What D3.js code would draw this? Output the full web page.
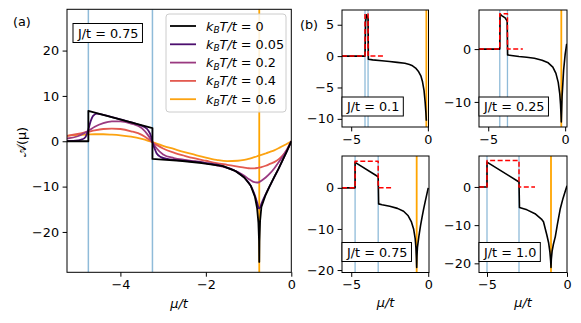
<!DOCTYPE html>
<html>
<head>
<meta charset="utf-8">
<script src="https://cdn.jsdelivr.net/npm/d3@7/dist/d3.min.js"></script>
<style>
body { margin: 0; background: #fff; }
text { font-family: "DejaVu Sans", sans-serif; font-size: 12.8px; fill: #000; }
</style>
</head>
<body>
<script>
const width = 581;
const height = 323;

// ---- panel (a) data, J/t = 0.75 ----
const tempLabels = ["0", "0.05", "0.2", "0.4", "0.6"];
const tempColors = ["#000000", "#4c0f6e", "#9a3a80", "#e35a50", "#fca311"];

const muT0 = [-5.25, -4.75, -4.75, -3.25, -3.25, -3.1, -2.6, -2.1, -1.6, -1.3, -1.1, -0.95, -0.85, -0.8, -0.77, -0.755, -0.75, -0.745, -0.73, -0.7, -0.6, -0.5, -0.4, -0.3, -0.2, -0.1, 0];
const valT0 = [0, 0, 6.7, 2.9, -3.9, -4.0, -4.3, -4.8, -5.5, -6.6, -8.0, -9.8, -12.3, -14.8, -18, -22, -26.6, -22, -17.5, -14.5, -11.8, -9.8, -7.9, -6.1, -4.1, -2.1, 0];

const muT005 = [-5.25, -5.0, -4.9, -4.82, -4.75, -4.7, -4.64, -4.55, -4.4, -4.0, -3.6, -3.45, -3.35, -3.28, -3.25, -3.2, -3.15, -3.05, -2.9, -2.5, -2.0, -1.6, -1.3, -1.1, -0.95, -0.87, -0.8, -0.76, -0.74, -0.7, -0.6, -0.5, -0.4, -0.3, -0.2, -0.1, 0];
const valT005 = [0.05, 0.2, 0.4, 0.9, 2.6, 4.3, 5.6, 6.1, 5.8, 4.8, 3.75, 3.2, 2.4, 1.0, -0.2, -1.6, -2.7, -3.5, -3.9, -4.3, -4.8, -5.5, -6.6, -8.0, -9.8, -11.5, -13.5, -14.8, -14.8, -13.8, -11.7, -9.8, -7.9, -6.1, -4.1, -2.1, 0];

const muT = [-5.25, -5.0, -4.75, -4.6, -4.4, -4.2, -4.0, -3.75, -3.5, -3.35, -3.25, -3.15, -3.0, -2.75, -2.5, -2.25, -2.0, -1.75, -1.5, -1.25, -1.1, -1.0, -0.9, -0.8, -0.75, -0.7, -0.6, -0.5, -0.4, -0.3, -0.2, -0.1, 0];
const valT02 = [0.6, 1.1, 2.3, 3.2, 4.0, 4.4, 4.4, 3.9, 2.9, 1.3, -0.2, -1.6, -2.9, -3.7, -4.1, -4.4, -4.8, -5.3, -5.9, -6.8, -7.6, -8.3, -8.9, -9.1, -9.0, -8.7, -8.0, -7.1, -6.0, -4.7, -3.3, -1.8, 0];
const valT04 = [1.2, 1.6, 2.1, 2.4, 2.7, 2.8, 2.7, 2.2, 1.4, 0.5, -0.2, -0.8, -1.6, -2.5, -3.2, -3.8, -4.3, -4.8, -5.2, -5.6, -5.8, -5.95, -6.0, -5.9, -5.8, -5.7, -5.4, -5.0, -4.6, -4.0, -3.1, -1.8, 0];
const valT06 = [1.2, 1.4, 1.5, 1.55, 1.55, 1.45, 1.3, 1.0, 0.5, 0.1, -0.2, -0.5, -1.0, -1.7, -2.4, -3.0, -3.6, -4.1, -4.4, -4.3, -4.1, -3.9, -3.6, -3.3, -3.1, -3.0, -2.7, -2.35, -2.0, -1.55, -1.05, -0.55, 0];

// ---- panel (b) data, T = 0 ----
const jValues = [0.1, 0.25, 0.75, 1.0];
const jLabels = ["0.1", "0.25", "0.75", "1.0"];

const muJ01 = [-5.6, -4.1, -4.06, -4.0, -3.9, -3.88, -3.6, -3.0, -2.5, -2.0, -1.5, -1.2, -1.0, -0.8, -0.6, -0.45, -0.35, -0.25, -0.18, -0.13, -0.1];
const valJ01 = [0, 0, 5.5, 6.6, 6.0, -0.5, -0.6, -0.75, -0.85, -1.0, -1.15, -1.35, -1.55, -1.9, -2.5, -3.2, -4.1, -5.5, -7.3, -9.0, -10.3];
const muJ025 = [-5.6, -4.25, -4.23, -4.1, -3.9, -3.77, -3.74, -3.5, -3.0, -2.5, -2.0, -1.5, -1.1, -0.8, -0.6, -0.45, -0.35, -0.3, -0.27, -0.25, -0.2, -0.1, 0, 0.1];
const valJ025 = [0, 0, 6.6, 6.3, 5.9, 5.3, -1.1, -1.2, -1.4, -1.55, -1.75, -2.1, -2.6, -3.4, -4.6, -6.3, -8.5, -10.5, -12.3, -13.8, -9, -4, -1, 1];
const muJ075 = [-5.6, -4.75, -4.75, -3.25, -3.22, -3.0, -2.5, -2.0, -1.6, -1.3, -1.1, -0.95, -0.85, -0.8, -0.77, -0.75, -0.73, -0.7, -0.6, -0.5, -0.4, -0.3, -0.2, -0.1, 0];
const valJ075 = [0, 0, 6.2, 2.7, -3.9, -4.1, -4.5, -5.0, -5.7, -6.8, -8.2, -10.0, -12.3, -14.5, -17, -19.4, -16.5, -14.5, -11.6, -9.2, -7.1, -5.2, -3.4, -1.7, 0];
const muJ1 = [-5.5, -5.0, -5.0, -3.0, -2.97, -2.5, -2.0, -1.6, -1.47, -1.26, -1.15, -1.07, -1.02, -1.0, -0.98, -0.93, -0.85, -0.73, -0.6, -0.42, -0.25, -0.1, 0];
const valJ1 = [0, 0, 6.5, 1.3, -5.4, -6.0, -7.0, -8.4, -9.1, -12.6, -14.6, -17.0, -19.5, -21.1, -19, -16.8, -15.0, -13.0, -9.8, -5.7, -3.0, -1.0, 0.3];

const stepMu = [[-5.6, -4.1, -4.1, -3.9, -3.9, -2.9], [-5.6, -4.25, -4.25, -3.75, -3.75, -2.75], [-5.6, -4.75, -4.75, -3.25, -3.25, -2.25], [-5.5, -5.0, -5.0, -3.0, -3.0, -2.0]];
const stepVal = [[0, 0, 6.7, 6.7, 0, 0], [0, 0, 6.7, 6.7, 0, 0], [0, 0, 6.5, 6.5, 0, 0], [0, 0, 6.9, 6.9, 0, 0]];

const color = {
    blue: "#8fbbd9",
    orange: "#ffa500",
    red: "#ff0000"
};

let svg = d3.select("body").append("svg")
    .attr("width", width)
    .attr("height", height)
    .style("display", "block");

const minus = d => d < 0 ? "\u2212" + Math.abs(d) : "" + d;

function zip(xs, ys) {
    return xs.map((x, i) => [x, ys[i]]);
}

// draws one axes box, returns the scales and a clipped group
function makeAxes(id, box, xDom, yDom, xTicks, yTicks) {
    let x = d3.scaleLinear().domain(xDom).range([box.x0, box.x1]);
    let y = d3.scaleLinear().domain(yDom).range([box.y1, box.y0]);
    svg.append("clipPath").attr("id", "clip" + id)
        .append("rect")
        .attr("x", box.x0).attr("y", box.y0)
        .attr("width", box.x1 - box.x0).attr("height", box.y1 - box.y0);
    let g = svg.append("g").attr("clip-path", "url(#clip" + id + ")");

    let xa = svg.append("g")
        .attr("transform", "translate(0," + box.y1 + ")")
        .call(d3.axisBottom(x).tickValues(xTicks).tickSize(4.4).tickPadding(3.5).tickFormat(minus));
    let ya = svg.append("g")
        .attr("transform", "translate(" + box.x0 + ",0)")
        .call(d3.axisLeft(y).tickValues(yTicks).tickSize(4.4).tickPadding(3.5).tickFormat(minus));
    [xa, ya].forEach(a => {
        a.select(".domain").remove();
        a.selectAll("line").attr("stroke", "#000").attr("stroke-width", 1);
        a.selectAll("text").attr("font-size", "12.8px").attr("font-family", "DejaVu Sans");
    });
    return {x, y, g, box};
}

function frame(ax) {
    svg.append("rect")
        .attr("x", ax.box.x0).attr("y", ax.box.y0)
        .attr("width", ax.box.x1 - ax.box.x0).attr("height", ax.box.y1 - ax.box.y0)
        .attr("fill", "none").attr("stroke", "#000").attr("stroke-width", 1);
}

function vline(ax, mu, c, w) {
    ax.g.append("line")
        .attr("x1", ax.x(mu)).attr("x2", ax.x(mu))
        .attr("y1", ax.box.y0).attr("y2", ax.box.y1)
        .attr("stroke", c).attr("stroke-width", w);
}

function curve(ax, pts, c, w, smooth, dash) {
    let line = d3.line()
        .x(d => ax.x(d[0]))
        .y(d => ax.y(d[1]))
        .curve(smooth ? d3.curveMonotoneX : d3.curveLinear);
    ax.g.append("path")
        .datum(pts)
        .attr("d", line)
        .attr("fill", "none")
        .attr("stroke", c)
        .attr("stroke-width", w)
        .attr("stroke-linejoin", "round")
        .attr("stroke-dasharray", dash || null);
}

function jBox(x, yBase, label) {
    let g = svg.append("g");
    let r = g.append("rect");
    let t = g.append("text").attr("x", x).attr("y", yBase).text("J/t = " + label);
    let bb = t.node().getBBox();
    r.attr("x", bb.x - 4).attr("y", bb.y - 2)
        .attr("width", bb.width + 8).attr("height", bb.height + 4)
        .attr("fill", "#fff").attr("stroke", "#000").attr("stroke-width", 1);
}

// ---------- panel (a) ----------
let axA = makeAxes("A", {x0: 67, x1: 291.3, y0: 9.3, y1: 272.3}, [-5.25, 0], [-28.9, 29.1], [-4, -2, 0], [20, 10, 0, -10, -20]);
const Ja = 0.75;
vline(axA, -4 - Ja, color.blue, 1.5);
vline(axA, -4 + Ja, color.blue, 1.5);
vline(axA, -Ja, color.orange, 1.8);

const seriesA = [zip(muT0, valT0), zip(muT005, valT005), zip(muT, valT02), zip(muT, valT04), zip(muT, valT06)];
seriesA.slice().reverse().forEach((s, i) => {
    let k = seriesA.length - 1 - i;
    curve(axA, s, tempColors[k], 1.8, k > 0);
});
frame(axA);

// legend
let leg = svg.append("g");
leg.append("rect")
    .attr("x", 166).attr("y", 14).attr("width", 120).attr("height", 98).attr("rx", 3)
    .attr("fill", "#fff").attr("fill-opacity", 0.85)
    .attr("stroke", "#cccccc").attr("stroke-width", 1);
tempLabels.forEach((lab, i) => {
    let yy = 26 + i * 18.3;
    leg.append("line")
        .attr("x1", 170).attr("x2", 196).attr("y1", yy).attr("y2", yy)
        .attr("stroke", tempColors[i]).attr("stroke-width", 1.8);
    let t = leg.append("text").attr("x", 206).attr("y", yy + 4.5);
    t.append("tspan").attr("font-style", "italic").text("k");
    t.append("tspan").attr("font-style", "italic").attr("font-size", "9px").attr("dy", 2.5).text("B");
    t.append("tspan").attr("font-style", "italic").attr("dy", -2.5).text("T/t");
    t.append("tspan").text(" = " + lab);
});

jBox(78, 37.5, "0.75");

svg.append("text").attr("x", 13).attr("y", 26).text("(a)");
svg.append("text").attr("x", 179).attr("y", 308).attr("text-anchor", "middle")
    .attr("font-style", "italic").text("\u03bc/t");
svg.append("text")
    .attr("transform", "translate(26,142)rotate(-90)")
    .attr("text-anchor", "middle")
    .text("\ud835\udc9c(\u03bc)");

// ---------- panel (b) ----------
const boxesB = [
    {x0: 342, x1: 428.5, y0: 10, y1: 127},
    {x0: 479, x1: 567, y0: 10, y1: 127},
    {x0: 342, x1: 429, y0: 156, y1: 272.5},
    {x0: 479, x1: 567, y0: 156, y1: 272.5}
];
const xDomB = [[-5.6, 0.04], [-5.6, 0.12], [-5.6, 0.05], [-5.5, 0.0]];
const yDomB = [[-11.3, 7.35], [-14.75, 7.4], [-20.6, 7.75], [-22.4, 8.1]];
const yTicksB = [[5, 0, -5, -10], [0, -10], [0, -10, -20], [0, -10, -20]];
const blackB = [zip(muJ01, valJ01), zip(muJ025, valJ025), zip(muJ075, valJ075), zip(muJ1, valJ1)];

jValues.forEach((J, i) => {
    let ax = makeAxes("B" + i, boxesB[i], xDomB[i], yDomB[i], [-5, 0], yTicksB[i]);
    vline(ax, -4 - J, color.blue, 1.3);
    vline(ax, -4 + J, color.blue, 1.3);
    vline(ax, -J, color.orange, 1.8);
    curve(ax, blackB[i], "#000", 1.6, false);
    curve(ax, zip(stepMu[i], stepVal[i]), color.red, 1.5, false, "5,2.5");
    frame(ax);
    let b = boxesB[i];
    jBox(b.x0 + 5, b.y1 - 16, jLabels[i]);
});

svg.append("text").attr("x", 300).attr("y", 29).text("(b)");
svg.append("text").attr("x", 385.5).attr("y", 307).attr("text-anchor", "middle")
    .attr("font-style", "italic").text("\u03bc/t");
svg.append("text").attr("x", 523).attr("y", 307).attr("text-anchor", "middle")
    .attr("font-style", "italic").text("\u03bc/t");
</script>
</body>
</html>
